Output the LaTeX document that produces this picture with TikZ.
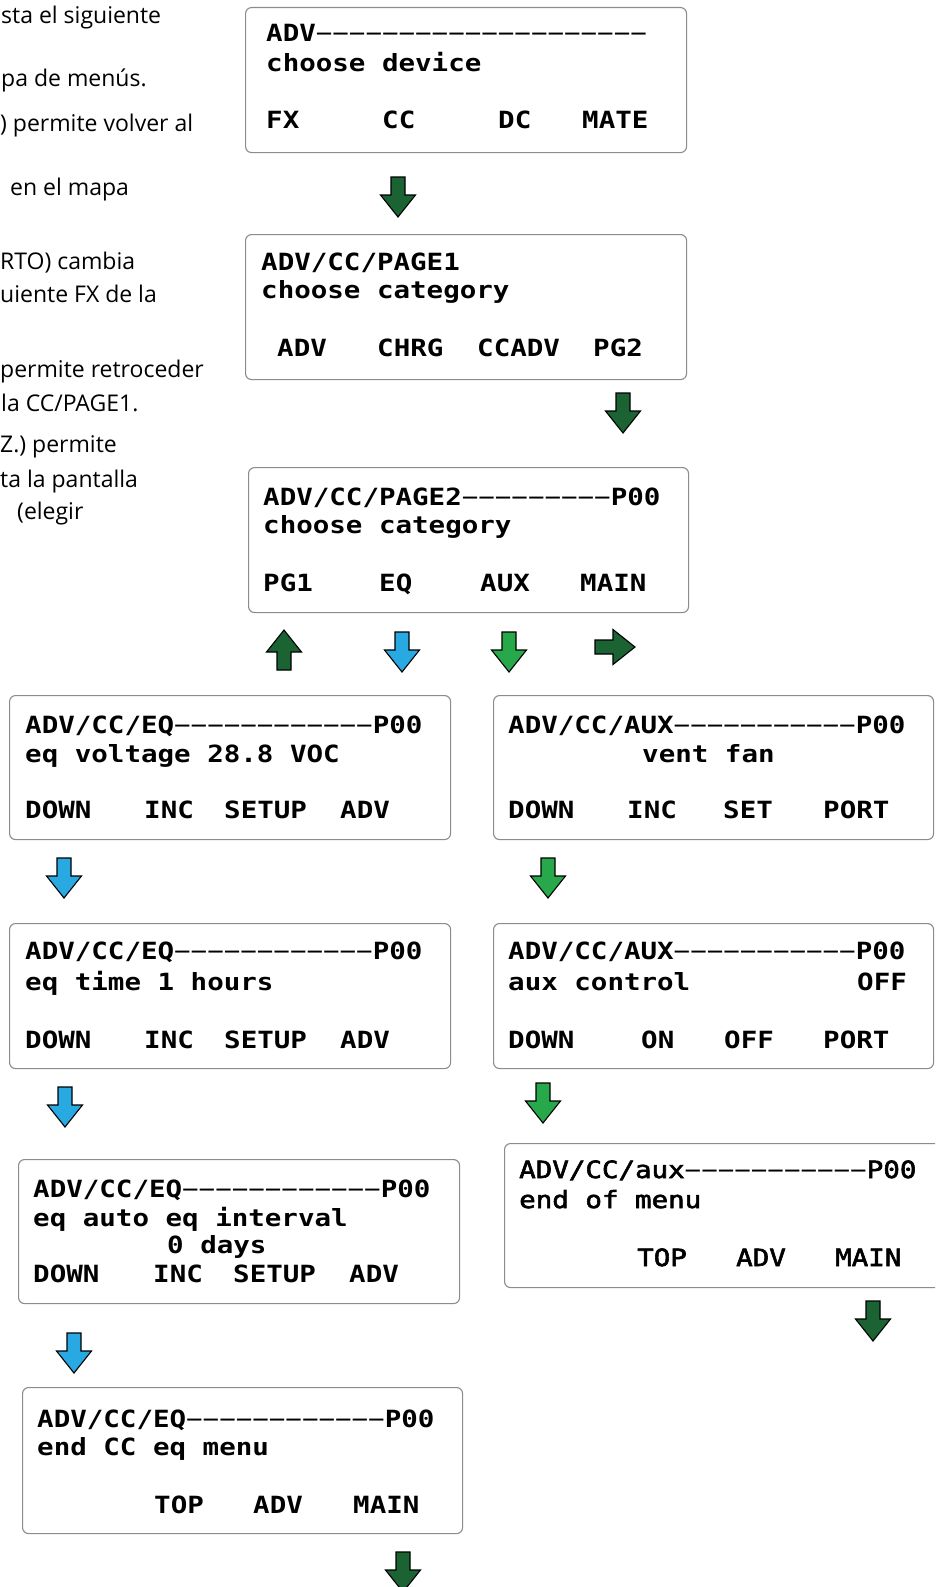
\documentclass[tikz,border=0pt]{standalone}
\usepackage{fontspec}
\newfontfamily\lcdfont[FakeStretch=1.16]{DejaVu Sans Mono}
\newfontfamily\lcdmedfont[FakeStretch=1.16,FakeBold=2.5]{DejaVu Sans Mono}
\newfontfamily\parafont{Open Sans}
\newcommand\dashrun[1]{{\mdseries\lcdfont #1}}
\definecolor{dkgreen}{HTML}{1B6332}
\definecolor{arblue}{HTML}{29A9E1}
\definecolor{argreen}{HTML}{27A84A}
\definecolor{boxgray}{HTML}{8C8C8C}
\tikzset{
  lcd/.style={font=\lcdfont\bfseries\fontsize{23.7}{28}\selectfont, inner sep=0pt, anchor=base west},
  lcdlight/.style={font=\lcdmedfont\fontsize{23.7}{28}\selectfont, inner sep=0pt, anchor=base west},
  para/.style={font=\parafont\fontsize{23}{27}\selectfont, inner sep=0pt, anchor=base west},
  screen/.style={draw=boxgray, line width=1.1pt, rounded corners=6pt, anchor=north west, inner sep=0pt},
  blockarrow/.style={draw=black, line width=1.1pt, line join=miter},
  darr/.pic={\path[pic actions] (-7,-20) -- (7,-20) -- (7,-2) -- (17.5,-2) -- (0,20) -- (-17.5,-2) -- (-7,-2) -- cycle;},
  uarr/.pic={\path[pic actions] (-7,20) -- (7,20) -- (7,2) -- (17.5,2) -- (0,-20) -- (-17.5,2) -- (-7,2) -- cycle;},
  rarr/.pic={\path[pic actions] (-20,-7) -- (-20,7) -- (-2,7) -- (-2,17.5) -- (20,0) -- (-2,-17.5) -- (-2,-7) -- cycle;}
}
\begin{document}
\begin{tikzpicture}[x=1pt,y=-1pt]
\fill[white] (0,0) rectangle (935,1587);
\useasboundingbox (0,0) rectangle (935,1587);
\clip (0,0) rectangle (935,1587);

% left paragraph fragments
\node[para] (p1) at (1,24) {sta el siguiente};
\node[para] (p2) at (1,86) {pa de menús.};
\node[para] (p3) at (0,131) {) permite volver al};
\node[para] (p4) at (10,195) {en el mapa};
\node[para] (p5) at (0,269) {RTO) cambia};
\node[para] (p6) at (0,302) {uiente FX de la};
\node[para] (p7) at (0,377) {permite retroceder};
\node[para] (p8) at (1,411) {la CC/PAGE1.};
\node[para] (p9) at (0,452) {Z.) permite};
\node[para] (p10) at (0,487) {ta la pantalla};
\node[para] (p11) at (17,519) {(elegir};

% screens
\node[screen, minimum width=441pt, minimum height=145pt] (b1) at (245,7) {};
\node[lcd] (b1r1) at (266,42) {ADV\dashrun{−−−−−−−−−−−−−−−−−−−−}};
\node[lcd] (b1r2) at (266,71) {choose device};
\node[lcd] (b1k1) at (266,128) {FX};
\node[lcd] (b1k2) at (382,128) {CC};
\node[lcd] (b1k3) at (498,128) {DC};
\node[lcd] (b1k4) at (582,128) {MATE};

\node[screen, minimum width=441pt, minimum height=145pt] (b2) at (245,234) {};
\node[lcd] (b2r1) at (261,270) {ADV/CC/PAGE1};
\node[lcd] (b2r2) at (261,298) {choose category};
\node[lcd] (b2k1) at (277,356) {ADV};
\node[lcd] (b2k2) at (377,356) {CHRG};
\node[lcd] (b2k3) at (477,356) {CCADV};
\node[lcd] (b2k4) at (593,356) {PG2};

\node[screen, minimum width=440pt, minimum height=145pt] (b3) at (248,467) {};
\node[lcd] (b3r1) at (263,505) {ADV/CC/PAGE2\dashrun{−−−−−−−−−}P00};
\node[lcd] (b3r2) at (263,533) {choose category};
\node[lcd] (b3k1) at (263,591) {PG1};
\node[lcd] (b3k2) at (379,591) {EQ};
\node[lcd] (b3k3) at (480,591) {AUX};
\node[lcd] (b3k4) at (580,591) {MAIN};

\node[screen, minimum width=441pt, minimum height=144pt] (e1) at (9,695) {};
\node[lcd] (e1r1) at (25,733) {ADV/CC/EQ\dashrun{−−−−−−−−−−−−}P00};
\node[lcd] (e1r2) at (25,762) {eq voltage 28.8 VOC};
\node[lcd] (e1k1) at (25,818) {DOWN};
\node[lcd] (e1k2) at (144,818) {INC};
\node[lcd] (e1k3) at (224,818) {SETUP};
\node[lcd] (e1k4) at (340,818) {ADV};

\node[screen, minimum width=441pt, minimum height=145pt] (e2) at (9,923) {};
\node[lcd] (e2r1) at (25,959) {ADV/CC/EQ\dashrun{−−−−−−−−−−−−}P00};
\node[lcd] (e2r2) at (25,990) {eq time 1 hours};
\node[lcd] (e2k1) at (25,1048) {DOWN};
\node[lcd] (e2k2) at (144,1048) {INC};
\node[lcd] (e2k3) at (224,1048) {SETUP};
\node[lcd] (e2k4) at (340,1048) {ADV};

\node[screen, minimum width=441pt, minimum height=144pt] (e3) at (18,1159) {};
\node[lcd] (e3r1) at (33,1197) {ADV/CC/EQ\dashrun{−−−−−−−−−−−−}P00};
\node[lcd] (e3r2) at (33,1226) {eq auto eq interval};
\node[lcd] (e3r3) at (167,1253) {0 days};
\node[lcd] (e3k1) at (33,1282) {DOWN};
\node[lcd] (e3k2) at (153,1282) {INC};
\node[lcd] (e3k3) at (233,1282) {SETUP};
\node[lcd] (e3k4) at (349,1282) {ADV};

\node[screen, minimum width=440pt, minimum height=146pt] (e4) at (22,1387) {};
\node[lcd] (e4r1) at (37,1427) {ADV/CC/EQ\dashrun{−−−−−−−−−−−−}P00};
\node[lcd] (e4r2) at (37,1455) {end CC eq menu};
\node[lcd] (e4k1) at (154,1513) {TOP};
\node[lcd] (e4k2) at (253,1513) {ADV};
\node[lcd] (e4k3) at (353,1513) {MAIN};

\node[screen, minimum width=440pt, minimum height=144pt] (a1) at (493,695) {};
\node[lcd] (a1r1) at (508,733) {ADV/CC/AUX\dashrun{−−−−−−−−−−−}P00};
\node[lcd] (a1r2) at (642,762) {vent fan};
\node[lcd] (a1k1) at (508,818) {DOWN};
\node[lcd] (a1k2) at (627,818) {INC};
\node[lcd] (a1k3) at (723,818) {SET};
\node[lcd] (a1k4) at (823,818) {PORT};

\node[screen, minimum width=440pt, minimum height=145pt] (a2) at (493,923) {};
\node[lcd] (a2r1) at (508,959) {ADV/CC/AUX\dashrun{−−−−−−−−−−−}P00};
\node[lcd] (a2r2) at (508,990) {aux control};
\node[lcd] (a2r2b) at (857,990) {OFF};
\node[lcd] (a2k1) at (508,1048) {DOWN};
\node[lcd] (a2k2) at (641,1048) {ON};
\node[lcd] (a2k3) at (724,1048) {OFF};
\node[lcd] (a2k4) at (823,1048) {PORT};

\node[screen, minimum width=450pt, minimum height=144pt] (a3) at (504,1143) {};
\node[lcdlight] (a3r1) at (519,1178) {ADV/CC/aux\dashrun{−−−−−−−−−−−}P00};
\node[lcdlight] (a3r2) at (519,1208) {end of menu};
\node[lcdlight] (a3k1) at (637,1266) {TOP};
\node[lcdlight] (a3k2) at (736,1266) {ADV};
\node[lcdlight] (a3k3) at (835,1266) {MAIN};

% block arrows
\pic[blockarrow, fill=dkgreen] (ar1) at (398,197) {darr};
\pic[blockarrow, fill=dkgreen] (ar2) at (623,413) {darr};
\pic[blockarrow, fill=dkgreen] (ar3) at (284,650) {uarr};
\pic[blockarrow, fill=arblue] (ar4) at (402,652) {darr};
\pic[blockarrow, fill=argreen] (ar5) at (509,652) {darr};
\pic[blockarrow, fill=dkgreen] (ar6) at (615,647) {rarr};
\pic[blockarrow, fill=arblue] (ar7) at (64,878) {darr};
\pic[blockarrow, fill=argreen] (ar8) at (548,878) {darr};
\pic[blockarrow, fill=arblue] (ar9) at (65,1107) {darr};
\pic[blockarrow, fill=argreen] (ar10) at (543,1103) {darr};
\pic[blockarrow, fill=arblue] (ar11) at (74,1353) {darr};
\pic[blockarrow, fill=dkgreen] (ar12) at (873,1321) {darr};
\pic[blockarrow, fill=dkgreen] (ar13) at (403,1572) {darr};
\end{tikzpicture}
\end{document}
